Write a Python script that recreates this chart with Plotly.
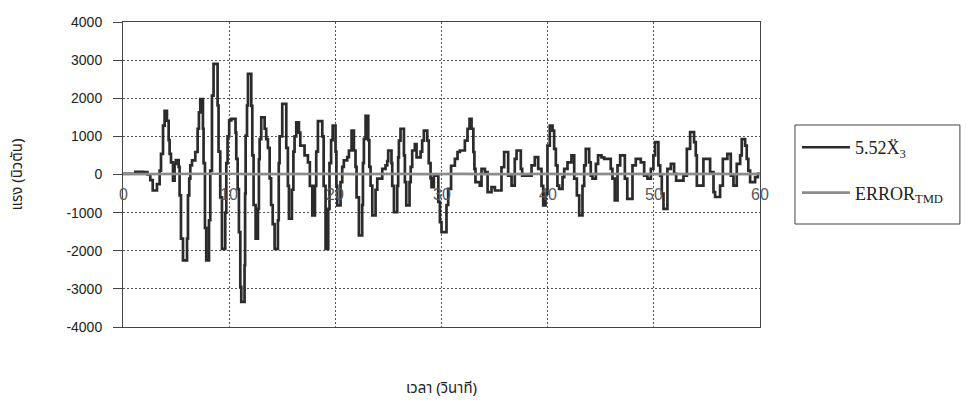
import plotly.graph_objects as go

# Force response 5.52*X3'' (step-wise record): change times (s) and levels (N)
force_t = [
    0.0, 1.16, 1.9, 2.3, 2.57, 2.8, 3.2, 3.45, 3.58, 3.77, 3.92, 4.14, 4.3, 4.39, 4.52, 4.71,
    4.86, 4.98, 5.24, 5.33, 5.46, 5.65, 6.03, 6.12, 6.24, 6.34, 6.5, 6.81, 7.03, 7.15, 7.28,
    7.53, 7.59, 7.72, 7.84, 8.1, 8.22, 8.38, 8.53, 8.91, 9.0, 9.16, 9.32, 9.63, 9.73, 9.85,
    10.0, 10.2, 10.6, 10.67, 10.8, 10.92, 11.05, 11.14, 11.45, 11.5, 11.55, 11.68, 11.77,
    12.08, 12.18, 12.3, 12.49, 12.71, 12.8, 12.87, 13.02, 13.34, 13.49, 13.65, 13.81, 13.95,
    14.1, 14.28, 14.59, 14.67, 14.75, 15.0, 15.38, 15.53, 15.63, 15.91, 16.05, 16.16, 16.32,
    16.57, 16.7, 17.1, 17.42, 17.6, 17.83, 18.08, 18.2, 18.36, 18.77, 18.9, 19.08, 19.33,
    19.45, 19.6, 19.75, 20.02, 20.1, 20.18, 20.49, 20.65, 20.8, 21.12, 21.28, 21.53, 21.75,
    21.9, 22.0, 22.22, 22.53, 22.6, 22.69, 22.85, 23.1, 23.2, 23.32, 23.48, 23.79, 23.95,
    24.42, 24.73, 24.89, 24.98, 25.29, 25.36, 25.52, 25.83, 25.92, 25.99, 26.14, 26.46,
    26.55, 26.68, 26.99, 27.1, 27.24, 27.49, 27.65, 28.03, 28.18, 28.34, 28.66, 28.8, 28.97,
    29.06, 29.28, 29.7, 29.85, 30.0, 30.47, 30.63, 30.9, 31.26, 31.51, 31.73, 32.2, 32.45,
    32.64, 32.83, 33.0, 33.1, 33.2, 33.61, 33.77, 34.09, 34.34, 34.71, 35.03, 35.65, 35.9,
    36.28, 36.6, 36.9, 37.07, 37.47, 37.6, 38.48, 38.79, 39.11, 39.42, 39.58, 39.8, 39.98,
    40.2, 40.46, 40.61, 40.77, 40.92, 41.08, 41.4, 41.56, 41.87, 42.24, 42.5, 42.75, 42.97,
    43.28, 43.44, 43.59, 43.91, 44.06, 44.22, 44.54, 44.75, 45.07, 45.32, 45.94, 46.1, 46.32,
    46.58, 46.83, 47.27, 47.5, 47.99, 48.3, 48.77, 49.09, 49.4, 49.72, 49.96, 50.12, 50.43,
    50.6, 50.75, 50.91, 51.28, 51.6, 51.91, 52.1, 52.79, 53.11, 53.42, 53.79, 53.95, 54.05,
    54.67, 55.3, 55.62, 55.77, 56.24, 56.5, 56.93, 57.25, 57.5, 57.81, 58.13, 58.28, 58.6,
    58.75, 58.9, 59.07, 59.54, 59.8, 60.0,
]
force_v = [
    20, 70, 60, 0, -150, -420, -250, 100, 540, 1280, 1670, 1410, 900, 540, 320, -160,
    280, 380, 200, -550, -1680, -2250, -1680, -550, -110, 240, 370, 590, 1200, 1630, 1980,
    1200, 300, -1400, -2250, -1200, 100, 2070, 2900, 1810, 600, -600, -1950, -1000, 300, 1000,
    1420, 1460, 1100, 410, -380, -1510, -2950, -3340, -2380, -500, 1020, 1810, 2640,
    1800, 500, -800, -1680, -900, 400, 930, 1500, 1200, 930, 700, -100, -800,
    -1300, -1950, -1200, 300, 1000, 1850, 700, -300, -1160, -400, 600, 1000, 1370,
    1100, 760, 500, 320, -300, -1070, -300, 600, 1400, 1000, -300, -1950, -900,
    300, 900, 1280, 600, -300, -810, -200, 200, 370, 455, 630, 1150, 630,
    200, -600, -1600, -800, 300, 935, 1540, 900, 200, -290, -1070, -400, -110,
    150, 240, 350, 630, 300, -300, -985, -300, 450, 890, 1200, 500,
    -200, -810, -200, 200, 630, 800, 450, 600, 890, 1150, 890, 300, -100,
    -330, -30, -720, -1250, -1510, -800, -375, 230, 410, 590, 630, 890, 1200,
    1460, 1200, 590, 150, -200, -290, 150, 62, -460, -330, -420, 190, 590,
    -30, -290, 410, 630, 150, -30, 240, 455, 150, -300, -810, -500, 760,
    1280, 1150, 670, 240, -290, -375, -70, 150, 320, 500, -110, -550, -1070,
    -300, 240, 670, 320, -30, -110, 280, 500, 450, 410, 150, -110, -680,
    240, 500, -110, -640, 240, 410, 320, -30, -110, 150, 500, 850, 240,
    -30, -500, -900, 150, 280, 20, -160, -30, 670, 1110, 850, 500, -290,
    410, 60, -460, -590, -290, 410, 540, -30, -290, 280, 500, 930, 760,
    410, 100, -200, -70, 20, 20,
]

# TMD error term (N), sampled every 2 s
error_t = list(range(0, 61, 2))
error_v = [
    10, 15, 20, 15, 25, 20, 10, 15, 20, 25, 15, 10, 20, 15, 10, 20,
    15, 10, 15, 20, 15, 10, 15, 20, 15, 10, 15, 20, 15, 10, 15,
]

x_ticks = [0, 10, 20, 30, 40, 50, 60]
y_ticks = [-4000, -3000, -2000, -1000, 0, 1000, 2000, 3000, 4000]

SANS = "Liberation Sans, Arial, sans-serif"
SERIF = "Liberation Serif, Times New Roman, serif"
THAI = "Noto Sans Thai, Tahoma, Loma, Garuda, Noto Sans, sans-serif"

fig = go.Figure()
fig.add_trace(go.Scatter(
    x=force_t, y=force_v, mode="lines", line_shape="hv",
    line=dict(color="#2b2b2b", width=2.7),
    name="5.52Ẍ<sub>3</sub>", legendgroup="a",
))
fig.add_trace(go.Scatter(
    x=error_t, y=error_v, mode="lines",
    line=dict(color="#8c8c8c", width=2.7),
    name="ERROR<sub>TMD</sub>", legendgroup="b",
))

# x tick labels sit just under the zero line
for t in x_ticks:
    fig.add_annotation(
        x=t, y=0, xref="x", yref="y", text=str(t), showarrow=False,
        yanchor="top", yshift=-9, font=dict(family=SANS, size=16, color="#5a5a5a"),
    )

# x axis title below the plot
fig.add_annotation(
    x=0.5, y=-0.2, xref="paper", yref="paper", text="เวลา (วินาที)",
    showarrow=False, xanchor="center", yanchor="middle",
    font=dict(family=THAI, size=15, color="#222222"),
)

# legend frame
fig.add_shape(
    type="rect", xref="paper", yref="paper",
    x0=1.0549, x1=1.3138, y0=0.3377, y1=0.6623,
    line=dict(color="#444444", width=1), fillcolor="rgba(0,0,0,0)",
)

fig.update_layout(
    width=966, height=400,
    margin=dict(l=123, r=206, t=22, b=73),
    paper_bgcolor="white", plot_bgcolor="white",
    showlegend=True,
    legend=dict(
        x=1.058, y=0.649, xanchor="left", yanchor="top",
        borderwidth=0, bgcolor="rgba(0,0,0,0)",
        font=dict(family=SERIF, size=18, color="#222222"),
        itemwidth=48, tracegroupgap=19, traceorder="grouped",
    ),
)
fig.update_xaxes(
    range=[0, 60], tickvals=x_ticks, showticklabels=False,
    showgrid=True, gridcolor="#555555", griddash="2px,2px", gridwidth=1,
    showline=True, linecolor="#444444", linewidth=1, mirror=True,
    zeroline=False, ticks="", automargin=False,
)
fig.update_yaxes(
    range=[-4000, 4000], tickvals=y_ticks, ticktext=[str(v) for v in y_ticks],
    showgrid=True, gridcolor="#555555", griddash="2px,2px", gridwidth=1,
    showline=True, linecolor="#444444", linewidth=1, mirror=True,
    zeroline=False, ticks="outside", ticklen=9, tickcolor="#444444",
    ticklabelstandoff=8, automargin=False,
    tickfont=dict(family=SANS, size=14, color="#222222"),
    title=dict(text="แรง (นิวตัน)", standoff=40,
               font=dict(family=THAI, size=15, color="#222222")),
)

fig.write_html("out.html")
